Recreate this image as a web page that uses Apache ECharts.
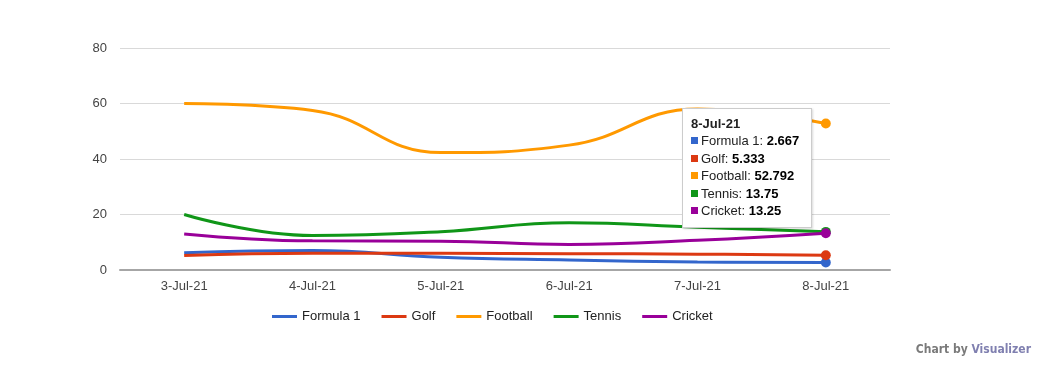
<!DOCTYPE html>
<html>
<head>
<meta charset="utf-8">
<script src="https://cdn.jsdelivr.net/npm/echarts@6/dist/echarts.min.js"></script>
<style>
html,body{margin:0;padding:0;background:#fff;}
#c{width:1063px;height:371px;}
</style>
</head>
<body>
<div id="c"></div>
<script>
const categories = ['3-Jul-21','4-Jul-21','5-Jul-21','6-Jul-21','7-Jul-21','8-Jul-21'];
const formula1 = [6.2, 7.0, 4.6, 3.6, 2.9, 2.667];
const golf = [5.2, 6.0, 6.0, 5.9, 5.7, 5.333];
const football = [60, 57.5, 42.3, 45, 58, 52.792];
const tennis = [20, 12.4, 13.8, 17, 15.4, 13.75];
const cricket = [13, 10.5, 10.4, 9.2, 10.7, 13.25];
const yTicks = [0, 20, 40, 60, 80];
const seriesNames = ['Formula 1','Golf','Football','Tennis','Cricket'];
const seriesData = [formula1, golf, football, tennis, cricket];
const colors = ['#3366cc','#dc3912','#ff9900','#109618','#990099'];
const hoverIndex = 5;

const FONT = 'Liberation Sans, Arial, sans-serif';
const chart = echarts.init(document.getElementById('c'), null, {renderer:'canvas'});

const series = seriesNames.map((name, i) => ({
  name: name,
  type: 'line',
  data: seriesData[i],
  smooth: 0.45,
  symbol: 'circle',
  showAllSymbol: true,
  symbolSize: (v, p) => p.dataIndex === hoverIndex ? 9 : 0,
  lineStyle: {width: 3, color: colors[i]},
  itemStyle: {color: colors[i]},
  emphasis: {disabled: true},
  animation: false
}));

chart.setOption({
  animation: false,
  color: colors,
  grid: {left: 120, right: 173, top: 48, bottom: 101},
  xAxis: {
    type: 'category',
    data: categories,
    boundaryGap: true,
    axisLine: {show: true, lineStyle: {color: '#a6a6a6', width: 2}},
    axisTick: {show: false},
    axisLabel: {color: '#444', fontFamily: FONT, fontSize: 13, margin: 10}
  },
  yAxis: {
    type: 'value',
    min: yTicks[0],
    max: yTicks[yTicks.length - 1],
    interval: yTicks[1] - yTicks[0],
    axisLine: {show: false},
    axisTick: {show: false},
    splitLine: {lineStyle: {color: '#d9d9d9', width: 1}},
    axisLabel: {color: '#444', fontFamily: FONT, fontSize: 13, margin: 13}
  },
  legend: {
    left: 272,
    top: 310,
    padding: 0,
    icon: 'rect',
    itemWidth: 25,
    itemHeight: 3,
    itemGap: 21,
    textStyle: {color: '#222', fontFamily: FONT, fontSize: 13},
    data: seriesNames
  },
  tooltip: {
    trigger: 'axis',
    alwaysShowContent: true,
    transitionDuration: 0,
    axisPointer: {type: 'none'},
    position: [682, 108],
    padding: [6, 8, 7, 8],
    backgroundColor: '#fff',
    borderColor: '#cccccc',
    borderWidth: 1,
    borderRadius: 0,
    extraCssText: 'box-shadow: 1px 1px 2px rgba(0,0,0,0.15); width:112px;',
    textStyle: {fontFamily: FONT, fontSize: 13, color: '#222'},
    formatter: function (params) {
      let s = '<div style="font-weight:bold;line-height:17px;margin-bottom:0px;">' + params[0].name + '</div>';
      params.forEach(p => {
        s += '<div style="line-height:17.5px;white-space:nowrap;">' +
          '<span style="display:inline-block;width:7px;height:7px;background:' + p.color + ';margin-right:3px;vertical-align:1px;"></span>' +
          '<span style="color:#222">' + p.seriesName + ':</span> <b style="color:#000">' + p.value + '</b></div>';
      });
      return s;
    }
  },
  graphic: [{
    type: 'text',
    right: 32,
    top: 344,
    style: {
      text: '{a|Chart by }{b|Visualizer}',
      rich: {
        a: {fill: '#7a7a7a', fontFamily: 'Liberation Sans Narrow, DejaVu Sans Condensed, sans-serif', fontSize: 12, fontWeight: 'bold'},
        b: {fill: '#8080b0', fontFamily: 'Liberation Sans Narrow, DejaVu Sans Condensed, sans-serif', fontSize: 12, fontWeight: 'bold'}
      }
    }
  }],
  series: series
});

chart.dispatchAction({type: 'showTip', seriesIndex: 0, dataIndex: hoverIndex});
</script>
</body>
</html>
